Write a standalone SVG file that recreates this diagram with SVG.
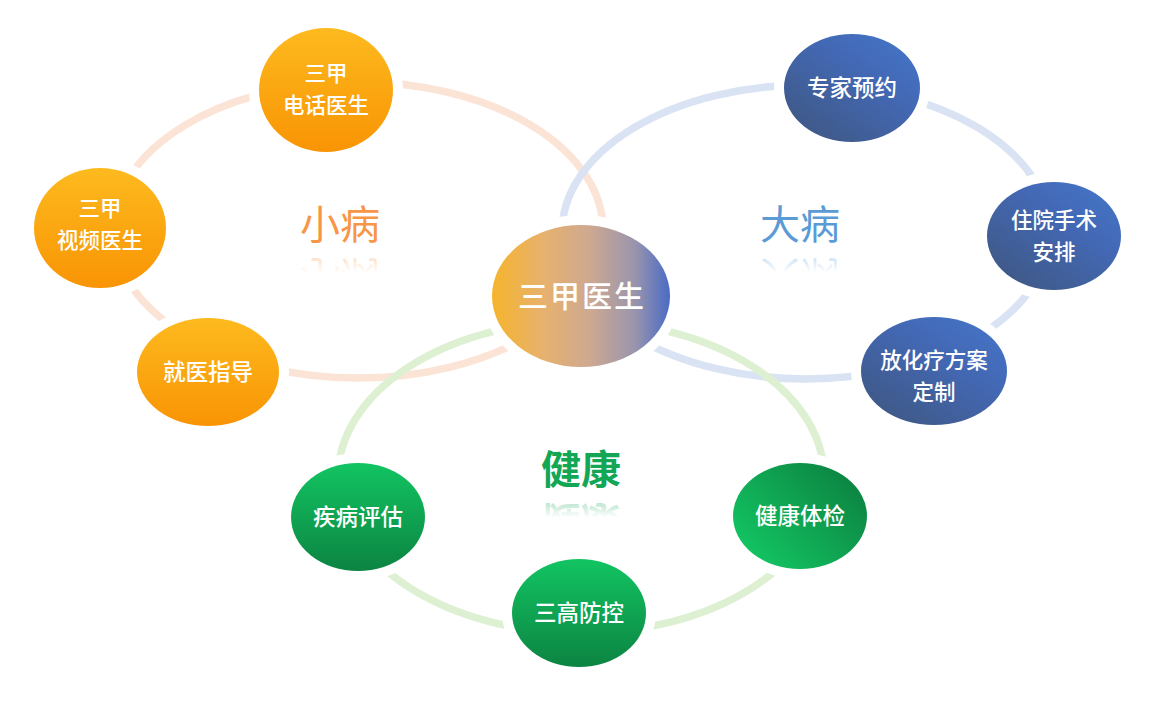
<svg xmlns="http://www.w3.org/2000/svg" width="1150" height="704" viewBox="0 0 1150 704">
  <defs>
    <linearGradient id="gOrange" x1="0" y1="0" x2="0" y2="1">
      <stop offset="0" stop-color="#FDBA1E"/>
      <stop offset="1" stop-color="#F99405"/>
    </linearGradient>
    <linearGradient id="gBlue" x1="0.15" y1="0.9" x2="0.85" y2="0.1">
      <stop offset="0" stop-color="#3F5988"/>
      <stop offset="0.65" stop-color="#4368B4"/>
      <stop offset="1" stop-color="#4472C4"/>
    </linearGradient>
    <linearGradient id="gGreen" x1="0" y1="0" x2="0" y2="1">
      <stop offset="0" stop-color="#12C462"/>
      <stop offset="1" stop-color="#0C8442"/>
    </linearGradient>
    <linearGradient id="gGreen2" x1="0.1" y1="0.85" x2="0.95" y2="0.2">
      <stop offset="0" stop-color="#13C462"/>
      <stop offset="1" stop-color="#0C8442"/>
    </linearGradient>
    <linearGradient id="gCenter" x1="0" y1="0" x2="1" y2="0">
      <stop offset="0" stop-color="#F6B42C"/>
      <stop offset="0.3" stop-color="#E6B170"/>
      <stop offset="0.55" stop-color="#CDA991"/>
      <stop offset="0.8" stop-color="#9A95AD"/>
      <stop offset="1" stop-color="#4B6BC4"/>
    </linearGradient>
    <linearGradient id="fade" x1="0" y1="0" x2="0" y2="1">
      <stop offset="0" stop-color="#fff" stop-opacity="0.45"/>
      <stop offset="0.7" stop-color="#fff" stop-opacity="0"/>
    </linearGradient>
    <mask id="mSmall" maskUnits="userSpaceOnUse" x="280" y="240" width="120" height="50">
      <rect x="280" y="249" width="120" height="34" fill="url(#fade)"/>
    </mask>
    <mask id="mBig" maskUnits="userSpaceOnUse" x="740" y="240" width="120" height="50">
      <rect x="740" y="249" width="120" height="34" fill="url(#fade)"/>
    </mask>
    <mask id="mHealth" maskUnits="userSpaceOnUse" x="520" y="485" width="120" height="50">
      <rect x="520" y="494" width="120" height="34" fill="url(#fade)"/>
    </mask>
  </defs>
  <style>
    .ring { fill: none; stroke-width: 7.5; }
    .gap { fill: #ffffff; }
    .lbl { font-family: "Noto Sans CJK SC", "Noto Sans", sans-serif; font-size: 22.5px; font-weight: 500; fill: #ffffff; text-anchor: middle; }
    .two { font-size: 21.5px; }
    .center { font-size: 30px; letter-spacing: 2px; }
    .title { font-family: "Noto Sans CJK SC", "Noto Sans", sans-serif; font-size: 40px; text-anchor: middle; }
  </style>
  <rect width="1150" height="704" fill="#ffffff"/>

  <g id="connectors">
    <ellipse class="ring" cx="358" cy="230" rx="245" ry="148" stroke="#FBE3D6"/>
    <ellipse class="ring" cx="806" cy="232" rx="244" ry="147" stroke="#DAE3F3"/>
    <ellipse class="ring" cx="581" cy="477" rx="243" ry="156" stroke="#DDF0D2"/>
  </g>

  <g id="label-small">
    <text class="title" x="340" y="239" fill="#F79646">小病</text>
    <g mask="url(#mSmall)"><text class="title" x="340" y="-262" fill="#F79646" transform="scale(1,-1)">小病</text></g>
  </g>
  <g id="label-big">
    <text class="title" x="800" y="239" fill="#5B9BD5">大病</text>
    <g mask="url(#mBig)"><text class="title" x="800" y="-262" fill="#5B9BD5" transform="scale(1,-1)">大病</text></g>
  </g>
  <g id="label-health">
    <text class="title" x="581" y="484" fill="#13A654" font-weight="700">健康</text>
    <g mask="url(#mHealth)"><text class="title" x="581" y="-507" fill="#13A654" font-weight="700" transform="scale(1,-1)">健康</text></g>
  </g>

  <g id="n-phone">
    <ellipse class="gap" cx="326" cy="90" rx="77" ry="72"/>
    <ellipse cx="326" cy="90" rx="67" ry="62" fill="url(#gOrange)"/>
    <text class="lbl two" x="326" y="81">三甲</text>
    <text class="lbl two" x="326" y="112.5">电话医生</text>
  </g>
  <g id="n-video">
    <ellipse class="gap" cx="100" cy="228" rx="76" ry="70"/>
    <ellipse cx="100" cy="228" rx="66" ry="60" fill="url(#gOrange)"/>
    <text class="lbl two" x="100" y="216">三甲</text>
    <text class="lbl two" x="100" y="247.5">视频医生</text>
  </g>
  <g id="n-guide">
    <ellipse class="gap" cx="208" cy="372" rx="81" ry="64"/>
    <ellipse cx="208" cy="372" rx="71" ry="54" fill="url(#gOrange)"/>
    <text class="lbl" x="208" y="380">就医指导</text>
  </g>

  <g id="n-expert">
    <ellipse class="gap" cx="852" cy="88" rx="78" ry="64"/>
    <ellipse cx="852" cy="88" rx="68" ry="54" fill="url(#gBlue)"/>
    <text class="lbl" x="852" y="96">专家预约</text>
  </g>
  <g id="n-surgery">
    <ellipse class="gap" cx="1054" cy="236" rx="77" ry="64"/>
    <ellipse cx="1054" cy="236" rx="67" ry="54" fill="url(#gBlue)"/>
    <text class="lbl two" x="1054" y="228">住院手术</text>
    <text class="lbl two" x="1054" y="259.5">安排</text>
  </g>
  <g id="n-chemo">
    <ellipse class="gap" cx="934" cy="371" rx="83" ry="64"/>
    <ellipse cx="934" cy="371" rx="73" ry="54" fill="url(#gBlue)"/>
    <text class="lbl two" x="934" y="368">放化疗方案</text>
    <text class="lbl two" x="934" y="399.5">定制</text>
  </g>

  <g id="n-assess">
    <ellipse class="gap" cx="358" cy="517" rx="77" ry="64"/>
    <ellipse cx="358" cy="517" rx="67" ry="54" fill="url(#gGreen)"/>
    <text class="lbl" x="358" y="525">疾病评估</text>
  </g>
  <g id="n-three">
    <ellipse class="gap" cx="579" cy="613" rx="77" ry="64"/>
    <ellipse cx="579" cy="613" rx="67" ry="54" fill="url(#gGreen)"/>
    <text class="lbl" x="579" y="621">三高防控</text>
  </g>
  <g id="n-checkup">
    <ellipse class="gap" cx="800" cy="516" rx="77" ry="63"/>
    <ellipse cx="800" cy="516" rx="67" ry="53" fill="url(#gGreen2)"/>
    <text class="lbl" x="800" y="524">健康体检</text>
  </g>

  <g id="n-center">
    <ellipse class="gap" cx="581" cy="296" rx="99" ry="81"/>
    <ellipse cx="581" cy="296" rx="89" ry="71" fill="url(#gCenter)"/>
    <text class="lbl center" x="582" y="307">三甲医生</text>
  </g>
</svg>
